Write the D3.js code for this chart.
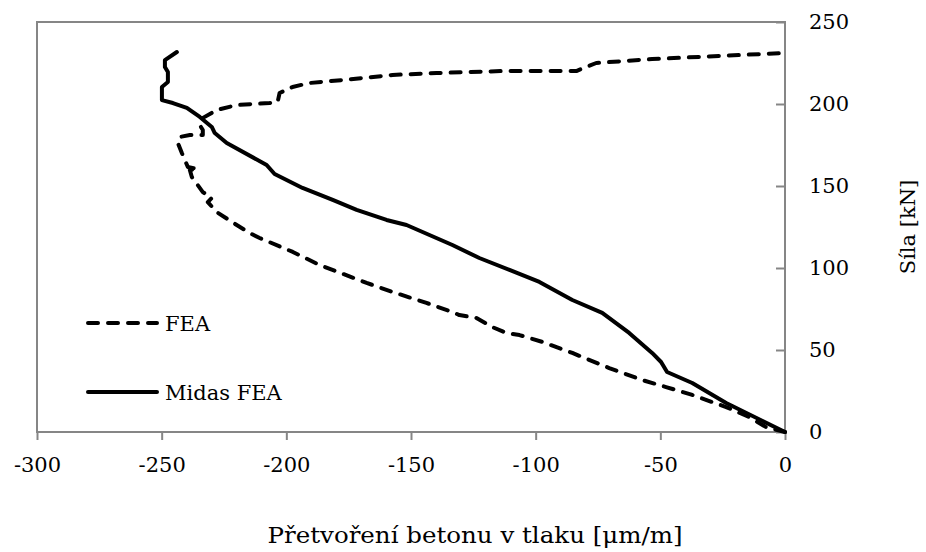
<!DOCTYPE html>
<html>
<head>
<meta charset="utf-8">
<script src="https://cdn.jsdelivr.net/npm/d3@7"></script>
<style>
  body { margin: 0; background: #fff; }
  svg text { font-family: "DejaVu Serif", serif; fill: #000; }
</style>
</head>
<body>
<svg id="chart" width="926" height="552"></svg>
<script>
// strain [um/m] vs force [kN]
const feaStrain = [0, -7.6, -14.4, -23.6, -37.2, -47.7, -57.3, -70.5, -85.3, -97.3, -106.5, -111.7,
    -117.4, -123.8, -130.6, -133.4, -143.8, -157.4, -167.8, -186.6, -197.4, -210.7, -214.7, -219.9,
    -227.9, -231.5, -229.9, -233.5, -237.9, -238.7, -235.5, -239.5, -241.9, -243.5, -242.7, -238.7,
    -233.5, -233.5, -234.7, -233.5, -227.9, -219.9, -206.7, -203.5, -202.7, -197.5, -190.7, -177.4,
    -157.4, -139.8, -113.4, -83.7, -79.7, -75.7, -53.3, -26.4, 0]
const feaForce = [0, 3.0, 9.1, 15.2, 22.6, 27.4, 31.7, 39.0, 48.2, 54.9, 59.1, 60.4,
    64.0, 69.5, 71.3, 73.2, 78.7, 85.4, 90.9, 101.8, 109.8, 118.3, 121.3, 126.2,
    134.1, 140.2, 142.7, 146.3, 155.5, 159.8, 160.4, 161.6, 170.1, 176.2, 179.9, 181.1,
    181.1, 184.1, 187.2, 191.5, 196.3, 199.4, 200.6, 201.2, 206.7, 210.4, 212.8, 214.6,
    217.7, 218.9, 220.1, 220.1, 222.6, 225.0, 227.4, 229.3, 231.1]

const midasStrain = [0, -23.6, -37.2, -47.3, -49.7, -53.3, -62.5, -73.3, -85.3, -98.5, -110.5,
    -122.6, -133.4, -151.8, -159.8, -171.8, -181.4, -193.5, -204.7, -207.9, -223.9, -228.7,
    -229.9, -234.7, -239.9, -245.5, -249.9, -249.9, -247.5, -247.5, -248.7, -248.7, -243.9]
const midasForce = [0, 17.7, 29.9, 36.6, 42.7, 48.2, 60.4, 72.6, 80.5, 91.5, 98.8,
    106.1, 114.0, 126.2, 129.3, 135.4, 141.5, 148.8, 157.3, 162.8, 176.2, 182.3,
    186.0, 192.1, 197.6, 200.6, 202.4, 210.4, 213.4, 219.5, 222.6, 226.8, 231.7]

const xTicks = [-300, -250, -200, -150, -100, -50, 0]
const yTicks = [0, 50, 100, 150, 200, 250]
const seriesNames = ["FEA", "Midas FEA"]

const margin = {left: 37, right: 140, top: 22, bottom: 120}
const W = 926, H = 552
const svg = d3.select("#chart")
const axisColor = "#868686"

const x = d3.scaleLinear().domain([-300, 0]).range([margin.left, W - margin.right - 1])
const y = d3.scaleLinear().domain([0, 250]).range([H - margin.bottom, margin.top])

// plot frame
svg.append("rect")
    .attr("x", x(-300)).attr("y", y(250))
    .attr("width", x(0) - x(-300)).attr("height", y(0) - y(250))
    .attr("fill", "none").attr("stroke", axisColor).attr("stroke-width", 2)

// bottom axis, ticks pointing out
const gx = svg.append("g")
    .attr("transform", `translate(0,${y(0)})`)
    .call(d3.axisBottom(x).tickValues(xTicks).tickSize(8).tickPadding(17)
        .tickFormat(d => String(d)))
gx.select(".domain").remove()
gx.selectAll(".tick line").attr("stroke", axisColor).attr("stroke-width", 2)
gx.selectAll(".tick text").attr("font-size", 21).attr("font-family", "DejaVu Serif")

// right axis, ticks pointing in
const gy = svg.append("g")
    .attr("transform", `translate(${x(0)},0)`)
    .call(d3.axisRight(y).tickValues(yTicks).tickSizeInner(-9).tickSizeOuter(0).tickPadding(24)
        .tickFormat(d => String(d)))
gy.select(".domain").remove()
gy.selectAll(".tick line").attr("stroke", axisColor).attr("stroke-width", 2)
gy.selectAll(".tick text").attr("font-size", 21).attr("font-family", "DejaVu Serif")

// axis titles
svg.append("text")
    .attr("x", 475).attr("y", 543)
    .attr("text-anchor", "middle").attr("font-size", 22)
    .attr("textLength", 415).attr("lengthAdjust", "spacingAndGlyphs")
    .text("Přetvoření betonu v tlaku [μm/m]")

svg.append("text")
    .attr("transform", `translate(915,${(y(0) + y(250)) / 2}) rotate(-90)`)
    .attr("text-anchor", "middle").attr("font-size", 21)
    .text("Síla [kN]")

// series
const line = d3.line().x(d => x(d[0])).y(d => y(d[1]))
const fea = d3.zip(feaStrain, feaForce)
const midas = d3.zip(midasStrain, midasForce)

svg.append("path").datum(fea)
    .attr("d", line)
    .attr("fill", "none").attr("stroke", "#000").attr("stroke-width", 4)
    .attr("stroke-dasharray", "10,10").attr("stroke-linecap", "round")
    .attr("stroke-linejoin", "round")

svg.append("path").datum(midas)
    .attr("d", line)
    .attr("fill", "none").attr("stroke", "#000").attr("stroke-width", 4)
    .attr("stroke-linecap", "round").attr("stroke-linejoin", "round")

// legend
const legend = svg.append("g")
const legendY = [323, 392]
seriesNames.forEach((name, i) => {
    legend.append("line")
        .attr("x1", 88).attr("x2", 157)
        .attr("y1", legendY[i]).attr("y2", legendY[i])
        .attr("stroke", "#000").attr("stroke-width", 4)
        .attr("stroke-linecap", "round")
        .attr("stroke-dasharray", i === 0 ? "10,10" : null)
    legend.append("text")
        .attr("x", 165).attr("y", legendY[i] + 8)
        .attr("font-size", 21)
        .text(name)
})
</script>
</body>
</html>
